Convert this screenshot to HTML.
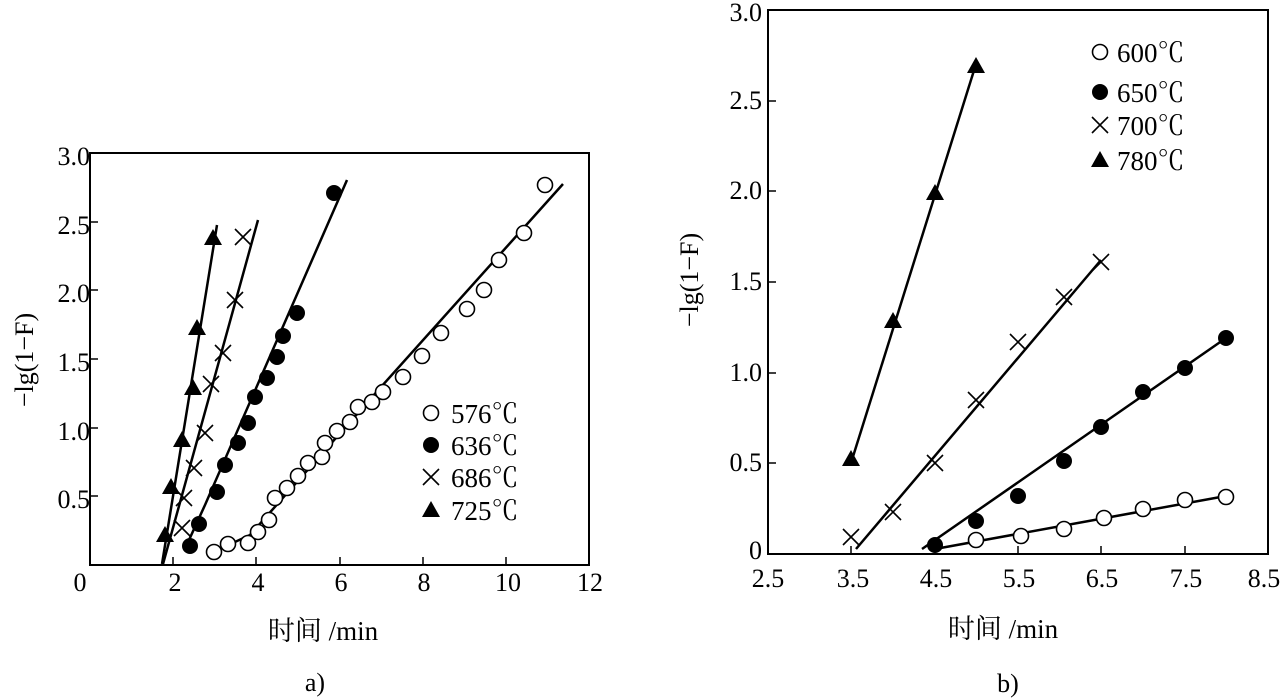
<!DOCTYPE html>
<html><head><meta charset="utf-8"><style>
html,body{margin:0;padding:0;background:#fff;}
svg{display:block;font-family:"Liberation Serif","Noto Serif CJK SC",serif;}
</style></head><body>
<svg width="1283" height="698" viewBox="0 0 1283 698" xmlns="http://www.w3.org/2000/svg">
<defs>
<circle id="oc" r="7.5" fill="#fff" stroke="#000" stroke-width="1.6"/>
<circle id="fc" r="8" fill="#000"/>
<path id="xx" d="M-8,-8L8,8M-8,8L8,-8" stroke="#000" stroke-width="1.6" fill="none"/>
<path id="tr" d="M0,-9L9,7L-9,7Z" fill="#000"/>
</defs>
<!-- LEFT CHART -->
<rect x="90" y="153" width="499" height="412" fill="none" stroke="#000" stroke-width="2"/>
<g stroke="#000" stroke-width="1.5">
<line x1="173" y1="565" x2="173" y2="557"/><line x1="256" y1="565" x2="256" y2="557"/><line x1="340" y1="565" x2="340" y2="557"/><line x1="423" y1="565" x2="423" y2="557"/><line x1="506" y1="565" x2="506" y2="557"/>
<line x1="90" y1="496" x2="98" y2="496"/><line x1="90" y1="428" x2="98" y2="428"/><line x1="90" y1="359" x2="98" y2="359"/><line x1="90" y1="290" x2="98" y2="290"/><line x1="90" y1="222" x2="98" y2="222"/>
</g>
<g font-size="26" text-anchor="end">
<text x="90" y="165">3.0</text><text x="90" y="234">2.5</text><text x="90" y="302">2.0</text><text x="90" y="371">1.5</text><text x="90" y="440">1.0</text><text x="90" y="508">0.5</text>
</g>
<g font-size="26" text-anchor="middle">
<text x="80" y="591">0</text><text x="175" y="591">2</text><text x="258" y="591">4</text><text x="341" y="591">6</text><text x="424" y="591">8</text><text x="508" y="591">10</text><text x="590" y="591">12</text>
</g>
<text transform="translate(33,360) rotate(-90)" font-size="26" text-anchor="middle">−lg(1−F)</text>
<text x="323" y="640" font-size="27" text-anchor="middle">时间 /min</text>
<text x="315" y="691" font-size="26" text-anchor="middle">a)</text>
<g fill="none" stroke="#000" stroke-width="2.5">
<polyline points="222,548 250,535 381,387 563,184"/>
<polyline points="189,540 205,505 347,180"/>
<line x1="163" y1="564" x2="258" y2="220"/>
<line x1="162" y1="564" x2="217" y2="225"/>
</g>
<g>
<use href="#oc" x="214" y="552"/><use href="#oc" x="228" y="544"/><use href="#oc" x="248" y="543"/><use href="#oc" x="258" y="532"/><use href="#oc" x="269" y="520"/><use href="#oc" x="275" y="498"/><use href="#oc" x="287" y="488"/><use href="#oc" x="298" y="476"/><use href="#oc" x="308" y="463"/><use href="#oc" x="322" y="457"/><use href="#oc" x="325" y="443"/><use href="#oc" x="337" y="431"/><use href="#oc" x="350" y="422"/><use href="#oc" x="358" y="407"/><use href="#oc" x="372" y="402"/><use href="#oc" x="383" y="392"/><use href="#oc" x="403" y="377"/><use href="#oc" x="422" y="356"/><use href="#oc" x="441" y="333"/><use href="#oc" x="467" y="309"/><use href="#oc" x="484" y="290"/><use href="#oc" x="499" y="260"/><use href="#oc" x="524" y="233"/><use href="#oc" x="545" y="185"/>
<use href="#fc" x="190" y="546"/><use href="#fc" x="199" y="524"/><use href="#fc" x="217" y="492"/><use href="#fc" x="225" y="465"/><use href="#fc" x="238" y="443"/><use href="#fc" x="248" y="423"/><use href="#fc" x="255" y="397"/><use href="#fc" x="267" y="378"/><use href="#fc" x="277" y="357"/><use href="#fc" x="283" y="336"/><use href="#fc" x="297" y="313"/><use href="#fc" x="334" y="193"/>
<use href="#xx" x="182" y="528"/><use href="#xx" x="184" y="498"/><use href="#xx" x="194" y="468"/><use href="#xx" x="205" y="433"/><use href="#xx" x="211" y="384"/><use href="#xx" x="223" y="353"/><use href="#xx" x="235" y="300"/><use href="#xx" x="243" y="237"/>
<use href="#tr" x="165" y="535"/><use href="#tr" x="171" y="487"/><use href="#tr" x="182" y="440"/><use href="#tr" x="193" y="388"/><use href="#tr" x="197" y="328"/><use href="#tr" x="213" y="238"/>
</g>
<use href="#oc" x="431" y="413"/><use href="#fc" x="431" y="445"/><use href="#xx" x="431" y="477"/><use href="#tr" x="431" y="510"/>
<g font-size="27"><text x="451" y="423">576℃</text><text x="451" y="455">636℃</text><text x="451" y="487">686℃</text><text x="451" y="520">725℃</text></g>

<!-- RIGHT CHART -->
<rect x="768" y="10" width="500" height="544" fill="none" stroke="#000" stroke-width="2"/>
<g stroke="#000" stroke-width="1.5">
<line x1="851" y1="554" x2="851" y2="546"/><line x1="935" y1="554" x2="935" y2="546"/><line x1="1018" y1="554" x2="1018" y2="546"/><line x1="1101" y1="554" x2="1101" y2="546"/><line x1="1185" y1="554" x2="1185" y2="546"/>
<line x1="768" y1="463" x2="776" y2="463"/><line x1="768" y1="373" x2="776" y2="373"/><line x1="768" y1="282" x2="776" y2="282"/><line x1="768" y1="191" x2="776" y2="191"/><line x1="768" y1="101" x2="776" y2="101"/>
</g>
<g font-size="26" text-anchor="end">
<text x="762" y="21">3.0</text><text x="762" y="109">2.5</text><text x="762" y="199">2.0</text><text x="762" y="290">1.5</text><text x="762" y="381">1.0</text><text x="762" y="471">0.5</text><text x="762" y="559">0</text>
</g>
<g font-size="26" text-anchor="middle">
<text x="768" y="587">2.5</text><text x="853" y="587">3.5</text><text x="936" y="587">4.5</text><text x="1019" y="587">5.5</text><text x="1102" y="587">6.5</text><text x="1186" y="587">7.5</text><text x="1264" y="587">8.5</text>
</g>
<text transform="translate(698,280) rotate(-90)" font-size="26" text-anchor="middle">−lg(1−F)</text>
<text x="1003" y="638" font-size="27" text-anchor="middle">时间 /min</text>
<text x="1008" y="692" font-size="26" text-anchor="middle">b)</text>
<g fill="none" stroke="#000" stroke-width="2.5">
<line x1="851" y1="463" x2="976" y2="64"/>
<line x1="856" y1="549" x2="1101" y2="260"/>
<line x1="922" y1="549" x2="1226" y2="338"/>
<line x1="935" y1="549" x2="1226" y2="496"/>
</g>
<g>
<use href="#tr" x="851" y="459"/><use href="#tr" x="893" y="321"/><use href="#tr" x="935" y="193"/><use href="#tr" x="976" y="66"/>
<use href="#xx" x="851" y="537"/><use href="#xx" x="893" y="512"/><use href="#xx" x="935" y="463"/><use href="#xx" x="976" y="400"/><use href="#xx" x="1018" y="342"/><use href="#xx" x="1064" y="297"/><use href="#xx" x="1101" y="262"/>
<use href="#fc" x="935" y="545"/><use href="#fc" x="976" y="521"/><use href="#fc" x="1018" y="496"/><use href="#fc" x="1064" y="461"/><use href="#fc" x="1101" y="427"/><use href="#fc" x="1143" y="392"/><use href="#fc" x="1185" y="368"/><use href="#fc" x="1226" y="338"/>
<use href="#oc" x="976" y="540"/><use href="#oc" x="1021" y="536"/><use href="#oc" x="1064" y="529"/><use href="#oc" x="1104" y="518"/><use href="#oc" x="1143" y="509"/><use href="#oc" x="1185" y="500"/><use href="#oc" x="1226" y="497"/>
</g>
<use href="#oc" x="1100" y="52"/><use href="#fc" x="1100" y="92"/><use href="#xx" x="1100" y="125"/><use href="#tr" x="1100" y="160"/>
<g font-size="27"><text x="1117" y="62">600℃</text><text x="1117" y="102">650℃</text><text x="1117" y="135">700℃</text><text x="1117" y="170">780℃</text></g>
</svg>
</body></html>
